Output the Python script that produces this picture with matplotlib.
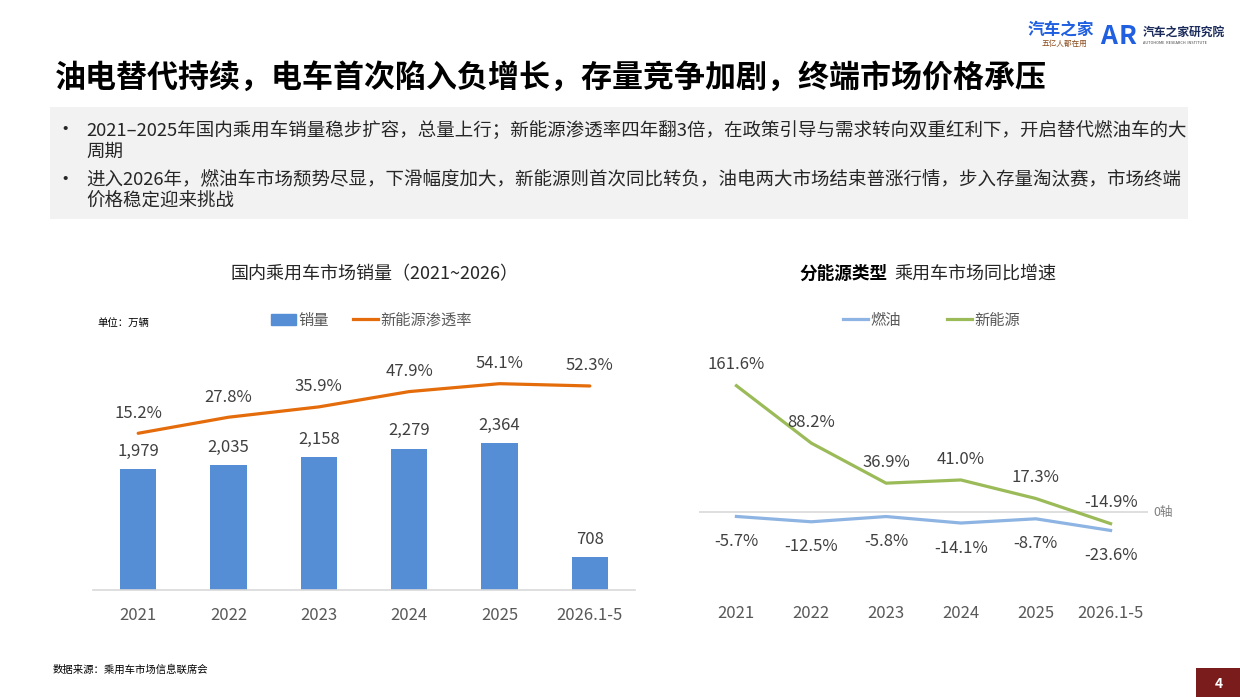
import numpy as np
import matplotlib.pyplot as plt
from matplotlib.patches import Rectangle, Patch
from matplotlib.lines import Line2D

plt.rcParams['font.family'] = ['Noto Sans CJK SC', 'DejaVu Sans']
plt.rcParams['axes.unicode_minus'] = False

# 数据
years = ['2021', '2022', '2023', '2024', '2025', '2026.1-5']
sales = [1979, 2035, 2158, 2279, 2364, 708]          # 万辆
nev_rate = [15.2, 27.8, 35.9, 47.9, 54.1, 52.3]      # 新能源渗透率 %
fuel_yoy = [-5.7, -12.5, -5.8, -14.1, -8.7, -23.6]   # 燃油 同比 %
nev_yoy = [161.6, 88.2, 36.9, 41.0, 17.3, -14.9]     # 新能源 同比 %

bullets = [
    ['2021–2025年国内乘用车销量稳步扩容，总量上行；新能源渗透率四年翻3倍，在政策引导与需求转向双重红利下，开启替代燃油车的大',
     '周期'],
    ['进入2026年，燃油车市场颓势尽显，下滑幅度加大，新能源则首次同比转负，油电两大市场结束普涨行情，步入存量淘汰赛，市场终端',
     '价格稳定迎来挑战'],
]

W, H = 1240, 697
BAR_C = '#558ED5'
ORANGE = '#E46C0A'
BLUE_L = '#8DB4E2'
GREEN = '#9BBB59'
LABEL_C = '#404040'
TICK_C = '#595959'


def fx(x):
    return x / W


def fy(y):
    return 1 - y / H


fig = plt.figure(figsize=(12.4, 6.97), dpi=100)

# 标题
fig.text(fx(55), fy(78), '油电替代持续，电车首次陷入负增长，存量竞争加剧，终端市场价格承压',
         fontsize=22.3, fontweight='bold', ha='left', va='center', color='black')

# 灰色说明框
fig.patches.append(Rectangle((fx(50), fy(219)), fx(1188) - fx(50), fy(107) - fy(219),
                             transform=fig.transFigure, facecolor='#F2F2F2',
                             edgecolor='none', zorder=0))
for i, lines in enumerate(bullets):
    y0 = 130 + i * 50
    fig.text(fx(65), fy(y0), '•', fontsize=14, ha='center', va='center', color='#262626')
    for j, line in enumerate(lines):
        fig.text(fx(86), fy(y0 + j * 21.5), line, fontsize=13.3, ha='left', va='center',
                 color='#262626')

# ---------------- 左图：销量 + 渗透率 ----------------
x = np.arange(len(years))
ax1 = fig.add_axes([fx(93), fy(590), fx(635) - fx(93), (590 - 330) / H])
ax1.bar(x, sales, width=0.4, color=BAR_C, zorder=2)
ax1.set_xlim(-0.5, 5.5)
ax1.set_ylim(229, 3997)
for s in ['top', 'left', 'right']:
    ax1.spines[s].set_visible(False)
ax1.spines['bottom'].set_color('#D9D9D9')
ax1.spines['bottom'].set_linewidth(1.2)
ax1.set_yticks([])
ax1.set_xticks(x, years)
ax1.tick_params(axis='x', length=0, pad=12, labelsize=12, labelcolor=TICK_C)
for xi, v in zip(x, sales):
    ax1.annotate(f'{v:,}', (xi, v), xytext=(0, 12.7), textcoords='offset points',
                 ha='center', va='center', fontsize=12, color=LABEL_C)

ax1b = ax1.twinx()
ax1b.plot(x, nev_rate, color=ORANGE, lw=2.3, solid_capstyle='round')
ax1b.set_ylim(-107.7, 96.2)
ax1b.set_yticks([])
for s in ax1b.spines.values():
    s.set_visible(False)
for xi, v in zip(x, nev_rate):
    ax1b.annotate(f'{v:.1f}%', (xi, v), xytext=(0, 14.5), textcoords='offset points',
                  ha='center', va='center', fontsize=12, color=LABEL_C)

fig.text(fx(375), fy(274), '国内乘用车市场销量（2021~2026）', fontsize=13,
         ha='center', va='center', color='#262626')
fig.text(fx(97), fy(322.7), '单位：万辆', fontsize=7.5, ha='left', va='center', color='black')
fig.legend([Patch(color=BAR_C), Line2D([], [], color=ORANGE, lw=2.3)],
           ['销量', '新能源渗透率'], loc='center', bbox_to_anchor=(fx(371.5), fy(320)),
           ncol=2, frameon=False, fontsize=11, handlelength=1.65, handletextpad=0.15,
           columnspacing=1.6, labelcolor=TICK_C)

# ---------------- 右图：同比增速 ----------------
ax2 = fig.add_axes([fx(699), fy(590), fx(1148) - fx(699), (590 - 330) / H])
ax2.axhline(0, color='#D9D9D9', lw=1.2, zorder=1)
ax2.plot(x, fuel_yoy, color=BLUE_L, lw=2.3, zorder=3)
ax2.plot(x, nev_yoy, color=GREEN, lw=2.3, zorder=3)
ax2.set_xlim(-0.5, 5.5)
ax2.set_ylim(-99.8, 232.9)
for s in ax2.spines.values():
    s.set_visible(False)
ax2.set_yticks([])
ax2.set_xticks(x, years)
ax2.tick_params(axis='x', length=0, pad=11, labelsize=12, labelcolor=TICK_C)
for xi, v in zip(x, nev_yoy):
    ax2.annotate(f'{v:.1f}%', (xi, v), xytext=(0, 15), textcoords='offset points',
                 ha='center', va='center', fontsize=12, color=LABEL_C)
for xi, v in zip(x, fuel_yoy):
    ax2.annotate(f'{v:.1f}%', (xi, v), xytext=(0, -18), textcoords='offset points',
                 ha='center', va='center', fontsize=12, color=LABEL_C)
ax2.annotate('0轴', xy=(5.5, 0), xytext=(4, 0), textcoords='offset points',
             ha='left', va='center', fontsize=9, color='#7F7F7F', annotation_clip=False)

fig.text(fx(888), fy(273.3), '分能源类型', fontsize=12.7, fontweight='bold',
         ha='right', va='center', color='black')
fig.text(fx(894), fy(273.3), '乘用车市场同比增速', fontsize=13,
         ha='left', va='center', color='#262626')
fig.legend([Line2D([], [], color=BLUE_L, lw=2.3), Line2D([], [], color=GREEN, lw=2.3)],
           ['燃油', '新能源'], loc='center', bbox_to_anchor=(fx(931.5), fy(320)),
           ncol=2, frameon=False, fontsize=11, handlelength=1.65, handletextpad=0.15,
           columnspacing=3.0, labelcolor=TICK_C)

# 数据来源 / 页码
fig.text(fx(53), fy(670), '数据来源：乘用车市场信息联席会', fontsize=7.5,
         ha='left', va='center', color='black')
fig.patches.append(Rectangle((fx(1196), 0), fx(1240) - fx(1196), fy(668),
                             transform=fig.transFigure, facecolor='#7B1C1C',
                             edgecolor='none'))
fig.text(fx(1219), fy(684), '4', fontsize=10, fontweight='bold',
         ha='center', va='center', color='white')

# 右上角 logo（文字近似）
fig.text(fx(1061), fy(30), '汽车之家', fontsize=12, fontweight='bold',
         ha='center', va='center', color='#1F5FE0')
fig.text(fx(1064), fy(44), '五亿人都在用', fontsize=5.5, fontstyle='italic',
         ha='center', va='center', color='#8B4A1A')
fig.text(fx(1100), fy(36), 'A', fontsize=19, fontweight='bold',
         ha='left', va='center', color='#1F5FE0')
fig.text(fx(1119), fy(36), 'R', fontsize=19, fontweight='bold',
         ha='left', va='center', color='#1F5FE0')
fig.text(fx(1143), fy(32), '汽车之家研究院', fontsize=8.5, fontweight='bold',
         ha='left', va='center', color='#1A2A5A')
fig.text(fx(1143), fy(43), 'AUTOHOME  RESEARCH  INSTITUTE', fontsize=2.8,
         ha='left', va='center', color='#444444')

fig.savefig('out.png', dpi=100)
